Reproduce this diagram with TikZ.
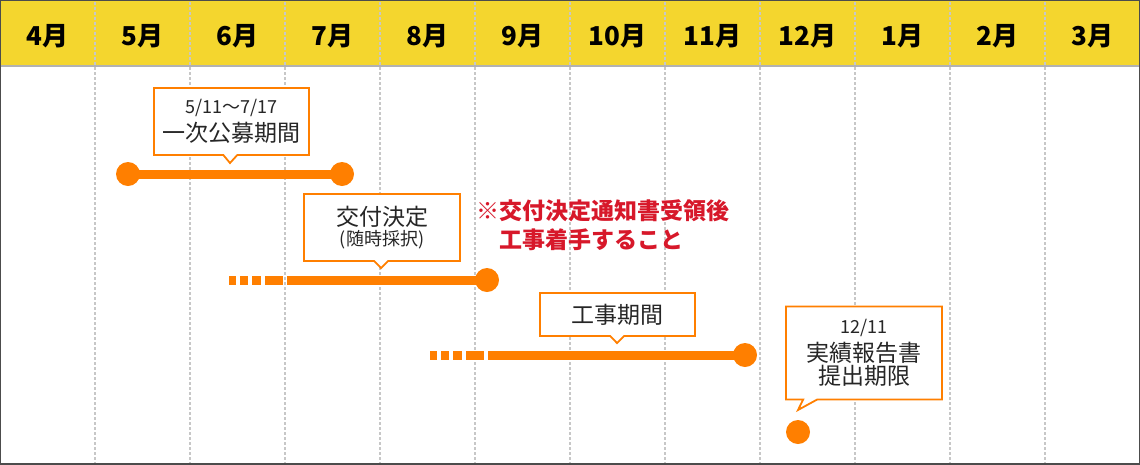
\documentclass[tikz,border=0pt]{standalone}
\usepackage{fontspec}
\setmainfont{Noto Sans CJK JP}
\usepackage{tikz}
\usetikzlibrary{shapes.callouts}
\definecolor{hdrYellow}{HTML}{F4D62E}
\definecolor{barOrange}{HTML}{FF7F00}
\definecolor{noteRed}{HTML}{D7182A}
\newcommand{\smalltxt}{\fontsize{18}{20}\selectfont}
\newcommand{\bigtxt}{\fontsize{23}{26}\selectfont}
\tikzset{
  monthlbl/.style = {font=\fontsize{26}{30}\selectfont\bfseries},
  gridline/.style = {black!22,line width=1.2pt,dash pattern=on 3pt off 2pt},
  balloon/.style  = {rectangle callout,draw=barOrange,line width=1.8pt,fill=white,
                     callout pointer width=14pt,inner sep=0pt,align=center,text=black!85},
  barline/.style  = {barOrange,line width=9pt},
  enddot/.style   = {circle,fill=barOrange,minimum size=24pt,inner sep=0pt},
  notetxt/.style  = {font=\fontsize{23}{26}\selectfont\bfseries,text=noteRed,anchor=west,inner sep=0pt}
}

\begin{document}
\begin{tikzpicture}[x=1pt,y=-1pt]
  \useasboundingbox (0,0) rectangle (1140,464);
  \fill[hdrYellow] (0,0) rectangle (1140,66);
  \draw[black!30,line width=1.5pt] (0,66) -- (1140,66);
  \foreach \i in {1,...,11}
    \draw[gridline] ({95*\i},2) -- ({95*\i},464);
  \foreach \m [count=\i] in {4,5,6,7,8,9,10,11,12,1,2,3}
    \node[monthlbl] (m\i) at ({95*\i-47.5},36) {{\m}月};
  \draw[black!70,line width=2.5pt] (0,0) rectangle (1140,464);

  % bars
  \node[enddot] (b1s) at (128,174) {};
  \node[enddot] (b1e) at (342,174) {};
  \draw[barline] (b1s.center) -- (b1e.center);
  \coordinate (b2s) at (229,280);
  \node[enddot] (b2e) at (487,280) {};
  \draw[barline,dash pattern=on 7pt off 4pt on 8pt off 4pt on 9pt off 4pt on 18pt off 4pt on 400pt]
    (b2s) -- (b2e.center);
  \coordinate (b3s) at (430,355);
  \node[enddot] (b3e) at (745,355) {};
  \draw[barline,dash pattern=on 7pt off 4pt on 8pt off 4pt on 9pt off 4pt on 18pt off 4pt on 400pt]
    (b3s) -- (b3e.center);
  \node[enddot] (kigen) at (798,432) {};

  % balloons
  \node[balloon,minimum width=155pt,minimum height=67pt,callout absolute pointer={(230,163)}]
    (bosyu) at (231.5,121.5)
    {{\smalltxt 5/11〜7/17}\\[4pt]{\bigtxt 一次公募期間}};
  \node[balloon,minimum width=156pt,minimum height=67pt,callout absolute pointer={(381,268)}]
    (kofu) at (382,227.5)
    {{\bigtxt 交付決定}\\[2pt]{\smalltxt (随時採択)}};
  \node[balloon,minimum width=155pt,minimum height=43pt,callout absolute pointer={(617,343)}]
    (koji) at (617.5,314.5) {\bigtxt 工事期間};
  \node[balloon,minimum width=156pt,minimum height=93pt,callout absolute pointer={(798,410)}]
    (hokoku) at (864,353)
    {{\smalltxt 12/11}\\[4pt]{\bigtxt 実績報告書}\\[1pt]{\bigtxt 提出期限}};

  \node[notetxt] (chui1) at (476,211) {※交付決定通知書受領後};
  \node[notetxt] (chui2) at (499,240) {工事着手すること};
\end{tikzpicture}
\end{document}
